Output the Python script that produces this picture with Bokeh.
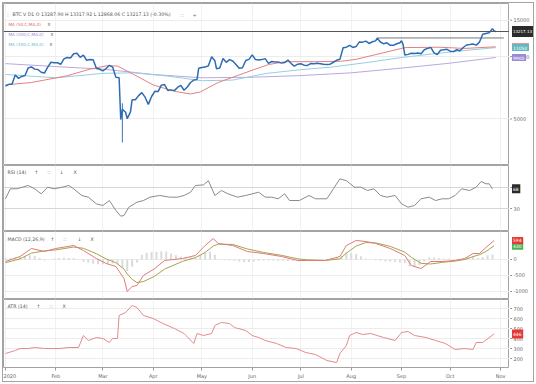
import pandas as pd
from bokeh.plotting import figure
from bokeh.layouts import column, row
from bokeh.models import Range1d, FixedTicker, Span, Label
from bokeh.core.properties import value
from bokeh.embed import file_html
from bokeh.resources import INLINE

# ---------------- data ----------------
month_days = [0, 31, 60, 91, 121, 152, 182, 213, 244, 274, 305]
month_labels = ["2020", "Feb", "Mar", "Apr", "May", "Jun", "Jul", "Aug", "Sep", "Oct", "Nov"]

price_dates = [
    "2020-01-01", "2020-01-03", "2020-01-05", "2020-01-07", "2020-01-09", "2020-01-11", "2020-01-13", "2020-01-15",
    "2020-01-17", "2020-01-19", "2020-01-21", "2020-01-23", "2020-01-25", "2020-01-27", "2020-01-29", "2020-01-31",
    "2020-02-02", "2020-02-04", "2020-02-06", "2020-02-08", "2020-02-10", "2020-02-12", "2020-02-14", "2020-02-16",
    "2020-02-18", "2020-02-20", "2020-02-22", "2020-02-24", "2020-02-26", "2020-02-28",
    "2020-03-01", "2020-03-03", "2020-03-05", "2020-03-07", "2020-03-09", "2020-03-11", "2020-03-12", "2020-03-13",
    "2020-03-15", "2020-03-16", "2020-03-18", "2020-03-19", "2020-03-21", "2020-03-23", "2020-03-25", "2020-03-27",
    "2020-03-29", "2020-03-31",
    "2020-04-02", "2020-04-04", "2020-04-06", "2020-04-08", "2020-04-10", "2020-04-12", "2020-04-14", "2020-04-16",
    "2020-04-18", "2020-04-20", "2020-04-22", "2020-04-24", "2020-04-26", "2020-04-28", "2020-04-29",
    "2020-05-01", "2020-05-03", "2020-05-05", "2020-05-07", "2020-05-09", "2020-05-10", "2020-05-12", "2020-05-14",
    "2020-05-16", "2020-05-18", "2020-05-20", "2020-05-22", "2020-05-24", "2020-05-26", "2020-05-28", "2020-05-30",
    "2020-06-01", "2020-06-03", "2020-06-05", "2020-06-07", "2020-06-09", "2020-06-11", "2020-06-13", "2020-06-15",
    "2020-06-17", "2020-06-19", "2020-06-21", "2020-06-23", "2020-06-25", "2020-06-27", "2020-06-29",
    "2020-07-01", "2020-07-03", "2020-07-05", "2020-07-07", "2020-07-09", "2020-07-11", "2020-07-13", "2020-07-15",
    "2020-07-17", "2020-07-19", "2020-07-21", "2020-07-23", "2020-07-25", "2020-07-27", "2020-07-29", "2020-07-31",
    "2020-08-02", "2020-08-04", "2020-08-06", "2020-08-08", "2020-08-10", "2020-08-12", "2020-08-14", "2020-08-16",
    "2020-08-17", "2020-08-19", "2020-08-21", "2020-08-23", "2020-08-25", "2020-08-27", "2020-08-29", "2020-08-31",
    "2020-09-01", "2020-09-02", "2020-09-03", "2020-09-05", "2020-09-07", "2020-09-09", "2020-09-11", "2020-09-13",
    "2020-09-15", "2020-09-17", "2020-09-19", "2020-09-21", "2020-09-23", "2020-09-25", "2020-09-27", "2020-09-29",
    "2020-10-01", "2020-10-03", "2020-10-05", "2020-10-07", "2020-10-09", "2020-10-11", "2020-10-13", "2020-10-15",
    "2020-10-17", "2020-10-19", "2020-10-21", "2020-10-23", "2020-10-25", "2020-10-27", "2020-10-28", "2020-10-29",
]
price_close = [
    7200, 7350, 7360, 8160, 7850, 8020, 8110, 8820,
    8910, 8700, 8660, 8400, 8330, 8900, 9390, 9350,
    9340, 9180, 9750, 9900, 9850, 10330, 10370, 9920,
    10170, 9600, 9690, 9660, 8790, 8690,
    8540, 8760, 9080, 8900, 7940, 7910, 4970, 5560,
    5390, 5010, 5410, 6190, 6190, 6480, 6700, 6370,
    5880, 6420,
    6800, 6780, 7280, 7330, 6860, 6910, 6850, 7100,
    7260, 6880, 7130, 7500, 7700, 7760, 8780,
    8860, 8900, 9030, 9980, 9540, 8730, 8800, 9790,
    9380, 9670, 9520, 9170, 8790, 8840, 9580, 9700,
    10200, 9670, 9630, 9670, 9780, 9280, 9470, 9430,
    9410, 9300, 9360, 9630, 9250, 9000, 9190,
    9230, 9090, 9070, 9250, 9230, 9280, 9240, 9190,
    9150, 9190, 9390, 9600, 9700, 11030, 11100, 11330,
    11070, 11180, 11770, 11740, 11880, 11570, 11790, 11910,
    12260, 11760, 11530, 11660, 11330, 11330, 11540, 11660,
    11930, 11390, 10170, 10250, 10370, 10340, 10400, 10330,
    10790, 10950, 11080, 10420, 10240, 10730, 10780, 10840,
    10620, 10570, 10790, 10670, 11060, 11380, 11430, 11500,
    11360, 11750, 12820, 12930, 13030, 13650, 13290, 13217.13,
]
crash_bar_date = ["2020-03-13"]
crash_bar_low = [3850]
crash_bar_high = [5950]

aug_high_dates = ["2020-08-17", "2020-11-03"]
aug_high_level = 12300
last_close = 13217.13

ma50_dates = ["2020-01-01", "2020-01-17", "2020-02-08", "2020-02-22", "2020-03-04", "2020-03-10", "2020-03-20",
              "2020-04-01", "2020-04-14", "2020-04-24", "2020-04-30", "2020-05-11", "2020-05-21", "2020-06-02",
              "2020-06-11", "2020-06-21", "2020-07-10", "2020-07-26", "2020-08-04", "2020-08-20", "2020-09-03",
              "2020-09-24", "2020-10-10", "2020-10-29"]
ma50_vals = [7300, 7500, 8080, 8700, 9050, 9000, 8200,
             7300, 6800, 6600, 6750, 7500, 8000, 8650,
             9150, 9450, 9450, 9500, 9700, 10400, 11050,
             11100, 10950, 11150]

ma100_dates = ["2020-01-01", "2020-02-01", "2020-03-01", "2020-03-20", "2020-04-10", "2020-05-01", "2020-05-20",
               "2020-06-10", "2020-07-01", "2020-07-20", "2020-08-10", "2020-09-01", "2020-09-20", "2020-10-10",
               "2020-10-29"]
ma100_vals = [8200, 7900, 8300, 8350, 8050, 7650, 7700,
              8300, 8650, 8900, 9350, 9900, 10300, 10700,
              11050]

ma200_dates = ["2020-01-01", "2020-02-01", "2020-03-01", "2020-04-01", "2020-05-01", "2020-06-01", "2020-07-01",
               "2020-08-01", "2020-09-01", "2020-10-01", "2020-10-29"]
ma200_vals = [9250, 8950, 8700, 8200, 7900, 7950, 8100,
              8350, 8800, 9300, 9900]

rsi_days = [0, 3, 7, 14, 18, 22, 26, 30, 35, 39, 42, 47, 51, 56, 60, 64, 68, 71, 73, 76,
            81, 85, 89, 95, 101, 106, 110, 114, 117, 122, 125, 129, 133, 137, 143, 148, 156, 160, 164, 168,
            172, 175, 181, 187, 191, 198, 202, 206, 210, 215, 219, 223, 227, 231, 235, 240, 244, 248, 252, 256,
            261, 265, 269, 273, 277, 281, 286, 290, 293, 296, 298, 300]
rsi_vals = [48.5, 67.5, 67.5, 73.8, 67.5, 58, 70.6, 67.5, 70.6, 73.8, 67.5, 54.8, 51.6, 38.9, 35.7, 45.2, 26.2, 15.4, 16.7, 32.5,
            42, 45.2, 51.6, 54.8, 51.6, 51.6, 54.8, 61, 73.8, 75, 83, 54.8, 64.3, 58, 51.6, 54.8, 61, 51.6, 51.6, 48.5,
            58, 45.2, 45.2, 54.8, 48.5, 48.5, 67.5, 86.5, 83, 70.6, 70.6, 64.3, 67.5, 54.8, 51.6, 54.8, 38.9, 32.5, 35.7, 48.5,
            51.6, 45.2, 48.5, 48.5, 54.8, 67.5, 64.3, 70.6, 81.4, 77, 77, 67.52]

macd_days = [0, 9, 16, 24, 31, 42, 48, 56, 62, 68, 73, 75, 78, 81, 85, 92, 98, 109, 117, 123,
             128, 131, 140, 149, 159, 170, 180, 186, 197, 206, 210, 216, 222, 228, 237, 246, 250, 256, 262, 269,
             277, 283, 288, 292, 296, 301]
macd_vals = [-62, 94, 344, 250, 344, 437, 281, 31, -125, -219, -594, -1000, -844, -812, -500, -281, -31, 31, 125, 437,
             656, 500, 437, 250, 187, 94, -31, -31, -31, 94, 437, 594, 562, 500, 344, 125, -187, -281, -62, -62,
             -31, 31, 187, 187, 375, 594.36]
signal_vals = [-100, 20, 200, 270, 300, 390, 350, 180, 20, -100, -300, -450, -620, -720, -690, -520, -300, -60, 60, 220,
               420, 480, 470, 330, 220, 130, 20, -10, -30, 20, 200, 420, 530, 520, 410, 230, 70, -120, -140, -90,
               -50, 0, 90, 150, 250, 430.11]
hist_vals = [40, 50, 65, 75, 100, 135, 120, 50, -20, 0, 35, 50, 55, 50, 45, -10, -70, -100, -130, -150,
             -150, -140, -125, -150, -260, -360, -230, -90, 150, 210, 235, 245, 260, 250, 190, 130, 95, 80, 70, 65,
             140, 215, 240, 150, 10, -20, -30, -40, -60, -75, -80, -60, -40, -33, -30, -35, -36, -40, -45, -50,
             -50, -35, -20, -10, -5, 0, 10, 30, 60, 120, 230, 210, 170, 100, 35, 5, -20, -40, -55, -65,
             -80, -95, -110, -220, -240, -170, -60, 60, 65, 40, 28, 22, 19, 22, 30, 60, 95, 50, 80, 130,
             160]
hist_days = list(range(0, 301, 3))

atr_days = [0, 6, 9, 14, 18, 24, 33, 39, 45, 48, 51, 56, 60, 64, 66, 69, 70, 74, 78, 81,
            85, 91, 97, 104, 110, 116, 118, 122, 127, 129, 133, 138, 141, 148, 152, 156, 160, 167, 173, 179,
            185, 191, 198, 204, 206, 210, 212, 216, 220, 225, 229, 233, 240, 244, 248, 252, 259, 265, 271, 277,
            283, 288, 290, 294, 301]
atr_vals = [250, 280, 300, 300, 310, 300, 300, 310, 310, 430, 380, 410, 400, 360, 400, 400, 630, 660, 730, 710,
            630, 600, 550, 500, 450, 350, 450, 430, 450, 530, 560, 550, 510, 480, 430, 410, 380, 350, 310, 300,
            260, 240, 180, 160, 250, 330, 430, 460, 440, 450, 430, 410, 380, 460, 470, 430, 410, 380, 350, 290,
            300, 290, 360, 360, 445.64]

main_ticks = [5000, 10000, 15000]
rsi_ticks = [30, 70]
macd_ticks = [-1000, -500, 0]
atr_ticks = [200, 300, 400, 500, 600, 700]

# ---------------- helpers ----------------
BASE = pd.Timestamp("2020-01-01")


def day_of(dates):
    return [(pd.Timestamp(d) - BASE).days for d in dates]


FONT = "DejaVu Sans"
FRAME_W = 506
SIDE_W = 24
x_range = Range1d(-1.23, 310.5)


def panel(frame_h, y_range, yticks, y_type="linear", bottom=1):
    f = figure(frame_width=FRAME_W, frame_height=frame_h, x_range=x_range, y_range=y_range,
               y_axis_type=y_type, y_axis_location=None, output_backend="svg",
               toolbar_location=None, min_border_left=0, min_border_right=0,
               min_border_top=0, min_border_bottom=bottom,
               outline_line_color="#a3a3a3", outline_line_width=1,
               background_fill_color="white", border_fill_color="white")
    f.xgrid.ticker = FixedTicker(ticks=month_days)
    f.xgrid.grid_line_color = "#f1f1f1"
    f.ygrid.ticker = FixedTicker(ticks=yticks)
    f.ygrid.grid_line_color = "#ececec"
    if bottom == 1:
        f.xaxis.visible = False
    return f


def side(frame_h, y_range, yticks, tags, y_type="linear", bottom=1):
    """Right-hand price scale: tick marks, tick labels and last-value tags."""
    s = figure(frame_width=SIDE_W, frame_height=frame_h, x_range=Range1d(0, SIDE_W), y_range=y_range,
               y_axis_type=y_type, x_axis_location=None, y_axis_location=None, output_backend="svg",
               toolbar_location=None, min_border_left=0, min_border_right=0,
               min_border_top=0, min_border_bottom=bottom, outline_line_color=None,
               background_fill_color="white", border_fill_color="white")
    s.grid.visible = False
    s.segment(x0=[0.5] * len(yticks), y0=yticks, x1=[2.5] * len(yticks), y1=yticks,
              line_color="#9a9a9a", line_width=1)
    s.text(x=[4] * len(yticks), y=yticks, text=[str(t) for t in yticks],
           text_font=value(FONT), text_font_size="5px", text_color="#6a6a6a",
           text_baseline="middle", text_align="left")
    for val, txt, bg, h, fs in tags:
        w = len(txt) * 2.9 + 2.5
        s.rect(x=[2.5 + w / 2], y=[val], width=w, height=h, height_units="screen",
               fill_color=bg, line_color=None)
        s.text(x=[3.4], y=[val], text=[txt], text_font=value(FONT), text_font_size=fs,
               text_color="white", text_baseline="middle", text_align="left")
    return s


def note(fig, x, y, text, color="#555555", size="4.7px"):
    fig.add_layout(Label(x=x, y=y, x_units="screen", y_units="screen", text=text,
                         text_color=color, text_font_size=size, text_font=FONT,
                         text_baseline="middle"))


# ---------------- main price panel ----------------
MAIN_H = 161
main_range = Range1d(3015, 18040)
p1 = panel(MAIN_H, main_range, main_ticks, y_type="log")
p1.add_layout(Span(location=last_close, dimension="width", line_color="#555555", line_width=1))
p1.line(day_of(aug_high_dates), [aug_high_level, aug_high_level], line_color="#777777", line_width=1)
p1.line(day_of(ma200_dates), ma200_vals, line_color="#b9a8e0", line_width=1)
p1.line(day_of(ma100_dates), ma100_vals, line_color="#95cfe0", line_width=1)
p1.line(day_of(ma50_dates), ma50_vals, line_color="#e57f7f", line_width=1)
p1.segment(x0=day_of(crash_bar_date), y0=crash_bar_low, x1=day_of(crash_bar_date), y1=crash_bar_high,
           line_color="#3a73b5", line_width=1)
p1.line(day_of(price_dates), price_close, line_color="#2e6cb2", line_width=1.5)

note(p1, 2, MAIN_H - 11, "⋮", "#777777")
note(p1, 9, MAIN_H - 11, "BTC V D1  O 13287.90  H 13317.92  L 12868.06  C 13217.13 (-0.30%)", "#555555")
note(p1, 177, MAIN_H - 11, "∷", "#777777", "5px")
note(p1, 189, MAIN_H - 11, "+", "#777777", "5px")
note(p1, 5, MAIN_H - 21, "MA (50,C,MA,0)", "#e06666", "4.2px")
note(p1, 44, MAIN_H - 21, "X", "#555555", "4.2px")
note(p1, 5, MAIN_H - 31, "MA (200,C,MA,0)", "#9a86d6", "4.2px")
note(p1, 47, MAIN_H - 31, "X", "#555555", "4.2px")
note(p1, 5, MAIN_H - 41, "MA (100,C,MA,0)", "#5fb9c8", "4.2px")
note(p1, 46, MAIN_H - 41, "X", "#555555", "4.2px")

s1 = side(MAIN_H, main_range, main_ticks, [
    (ma50_vals[-1], f"{ma50_vals[-1]:.0f}", "#e57373", 7, "4.5px"),
    (ma100_vals[-1], f"{ma100_vals[-1]:.0f}", "#62b8c0", 7, "4.5px"),
    (ma200_vals[-1], f"{ma200_vals[-1]:.0f}", "#9c8ad4", 7, "4.5px"),
    (last_close, f"{last_close:.2f}", "#2b2b2b", 11, "4px"),
], y_type="log")

# ---------------- RSI panel ----------------
RSI_H = 65
rsi_range = Range1d(-11.9, 111.9)
p2 = panel(RSI_H, rsi_range, rsi_ticks)
p2.ygrid.grid_line_color = "#d6d6d6"
p2.line(rsi_days, rsi_vals, line_color="#8a8a8a", line_width=1)
note(p2, 4, RSI_H - 7, "RSI (14)")
note(p2, 31, RSI_H - 7, "↑")
note(p2, 44, RSI_H - 7, "∷")
note(p2, 56, RSI_H - 7, "↓")
note(p2, 70, RSI_H - 7, "X")
s2 = side(RSI_H, rsi_range, rsi_ticks, [(rsi_vals[-1], f"{rsi_vals[-1]:.0f}", "#2b2b2b", 9, "4.5px")])

# ---------------- MACD panel ----------------
MACD_H = 67
macd_range = Range1d(-1219, 875)
p3 = panel(MACD_H, macd_range, macd_ticks)
p3.vbar(x=hist_days, top=hist_vals, bottom=0, width=1.2, fill_color="#dadada", line_color=None)
p3.line(macd_days, signal_vals, line_color="#a6a34c", line_width=1)
p3.line(macd_days, macd_vals, line_color="#e07a7a", line_width=1)
note(p3, 4, MACD_H - 8, "MACD (12,26,9)")
note(p3, 47, MACD_H - 8, "↑")
note(p3, 60, MACD_H - 8, "∷")
note(p3, 74, MACD_H - 8, "↓")
note(p3, 87, MACD_H - 8, "X")
s3 = side(MACD_H, macd_range, macd_ticks, [
    (signal_vals[-1], f"{signal_vals[-1]:.0f}", "#4caf50", 8, "4.5px"),
    (macd_vals[-1], f"{macd_vals[-1]:.0f}", "#e53935", 7, "4.5px"),
])

# ---------------- ATR panel ----------------
ATR_H = 68
atr_range = Range1d(110, 790)
p4 = panel(ATR_H, atr_range, atr_ticks, bottom=14)
p4.line(atr_days, atr_vals, line_color="#e58a8a", line_width=1)
note(p4, 4, ATR_H - 7, "ATR (14)")
note(p4, 33, ATR_H - 7, "↑")
note(p4, 46, ATR_H - 7, "∷")
note(p4, 59, ATR_H - 7, "X")
s4 = side(ATR_H, atr_range, atr_ticks, [(atr_vals[-1], f"{atr_vals[-1]:.0f}", "#e53935", 9, "4.5px")],
          bottom=14)

xa = p4.xaxis[0]
xa.ticker = FixedTicker(ticks=month_days)
xa.major_label_overrides = {d: lab for d, lab in zip(month_days, month_labels)}
xa.axis_line_color = None
xa.major_tick_line_color = "#999999"
xa.major_tick_out = 3
xa.major_tick_in = 0
xa.minor_tick_line_color = None
xa.major_label_text_font_size = "5px"
xa.major_label_text_color = "#666666"
xa.major_label_text_font = FONT
xa.major_label_standoff = 2

layout = column(row(p1, s1), row(p2, s2), row(p3, s3), row(p4, s4),
                styles={"border": "1px solid #a3a3a3", "margin": "2px 0 0 2px"})

open("out.html", "w").write(file_html(layout, INLINE))
